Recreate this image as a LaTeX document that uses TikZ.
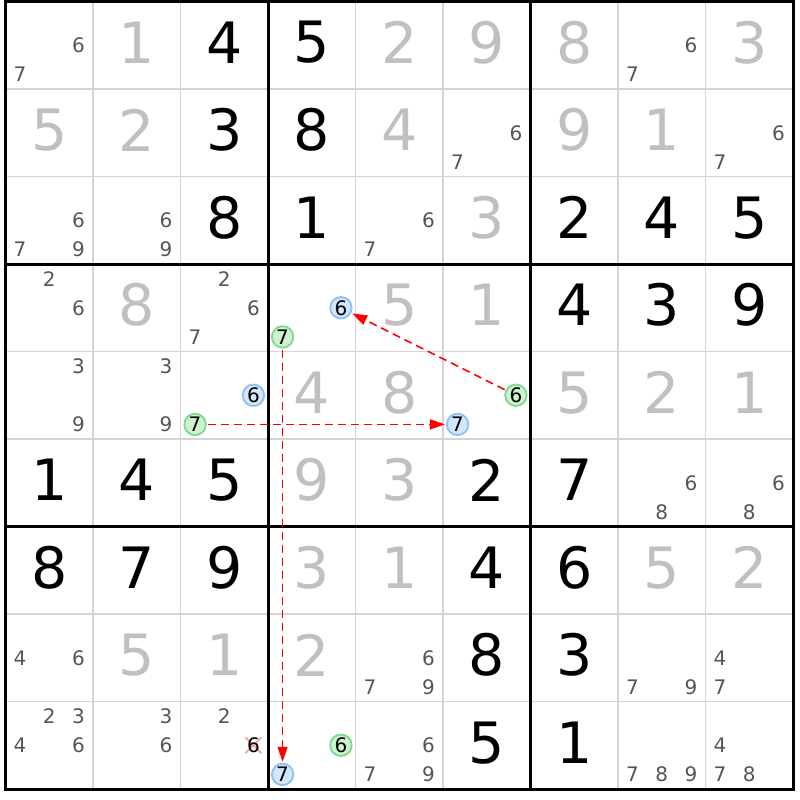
\documentclass[tikz,border=0pt]{standalone}
\usepackage{fontspec}
\setmainfont{DejaVu Sans}
\usetikzlibrary{arrows.meta}

\definecolor{solvedgray}{HTML}{C0C0C0}
\definecolor{candgray}{HTML}{555555}
\definecolor{thingray}{HTML}{D4D4D4}
\definecolor{bluefill}{HTML}{D2E6FC}
\definecolor{blueline}{HTML}{8CC0F4}
\definecolor{greenfill}{HTML}{CDF2CD}
\definecolor{greenline}{HTML}{7ED88E}
\definecolor{crossred}{HTML}{F4A0A0}

\begin{document}
\begin{tikzpicture}[x=87.5pt,y=-87.5pt,
    given/.style={font=\fontsize{57}{57}\selectfont,text=black,inner sep=0pt},
    solved/.style={given,text=solvedgray},
    cand/.style={font=\fontsize{20}{20}\selectfont,text=candgray,inner sep=0pt},
    bluecand/.style={cand,text=black,circle,draw=blueline,fill=bluefill,line width=1.8pt,minimum size=21.5pt},
    greencand/.style={bluecand,draw=greenline,fill=greenfill},
    link/.style={-{Triangle[length=15pt,width=10pt]},red,line width=1.5pt,dash pattern=on 8pt off 5pt,shorten <=1pt,shorten >=1pt}]
    \useasboundingbox (-0.0629,-0.0171) rectangle (9.0800,9.1257);

    % thin cell lines
    \foreach \i in {1,...,8} {
        \draw[thingray,line width=1.5pt] (\i,0) -- (\i,9);
        \draw[thingray,line width=1.5pt] (0,\i) -- (9,\i);
    }

    % given digits
    \foreach \r/\c/\d in {0/2/4,0/3/5,1/2/3,1/3/8,2/2/8,2/3/1,2/6/2,2/7/4,2/8/5,
        3/6/4,3/7/3,3/8/9,5/0/1,5/1/4,5/2/5,5/5/2,5/6/7,6/0/8,6/1/7,6/2/9,
        6/5/4,6/6/6,7/5/8,7/6/3,8/5/5,8/6/1}
        \node[given] (fix\r\c) at (\c+0.5,\r+0.47) {\d};

    % solved digits
    \foreach \r/\c/\d in {0/1/1,0/4/2,0/5/9,0/6/8,0/8/3,1/0/5,1/1/2,1/4/4,1/6/9,1/7/1,
        2/5/3,3/1/8,3/4/5,3/5/1,4/3/4,4/4/8,4/6/5,4/7/2,4/8/1,5/3/9,5/4/3,
        6/3/3,6/4/1,6/7/5,6/8/2,7/1/5,7/2/1,7/3/2}
        \node[solved] (sol\r\c) at (\c+0.5,\r+0.47) {\d};

    % candidates
    \foreach \r/\c/\ds in {0/0/{6,7},0/7/{6,7},1/5/{6,7},1/8/{6,7},2/0/{6,7,9},2/1/{6,9},
        2/4/{6,7},3/0/{2,6},3/2/{2,6,7},4/0/{3,9},4/1/{3,9},5/7/{6,8},5/8/{6,8},
        7/0/{4,6},7/4/{6,7,9},7/7/{7,9},7/8/{4,7},8/0/{2,3,4,6},8/1/{3,6},
        8/2/{2},8/4/{6,7,9},8/7/{7,8,9},8/8/{4,7,8}}
        \foreach \d in \ds {
            \pgfmathsetmacro\cx{\c+(mod(\d-1,3)+0.5)/3}
            \pgfmathsetmacro\cy{\r+(div(\d-1,3)+0.5)/3}
            \node[cand] (cand\r\c\d) at (\cx,\cy) {\d};
        }

    % eliminated candidate
    \draw[crossred,line width=1.8pt] (2.8333,8.5) ++(-0.09,-0.09) -- ++(0.18,0.18)
        ++(0,-0.18) -- ++(-0.18,0.18);
    \node[cand,text=black] (cand826) at (2.8333,8.5) {6};

    % chain nodes
    \node[greencand] (green337) at (3.1667,3.8333) {7};
    \node[bluecand] (blue336) at (3.8333,3.5) {6};
    \node[bluecand] (blue426) at (2.8333,4.5) {6};
    \node[greencand] (green427) at (2.1667,4.8333) {7};
    \node[greencand] (green456) at (5.8333,4.5) {6};
    \node[bluecand] (blue457) at (5.1667,4.8333) {7};
    \node[greencand] (green836) at (3.8333,8.5) {6};
    \node[bluecand] (blue837) at (3.1667,8.8333) {7};

    % box lines
    \foreach \i in {0,3,6,9} {
        \draw[line width=3pt,line cap=rect] (\i,0) -- (\i,9);
        \draw[line width=3pt,line cap=rect] (0,\i) -- (9,\i);
    }

    % links
    \path[link] (green456) edge (blue336);
    \path[link] (green427) edge (blue457);
    \path[link] (green337) edge (blue837);
\end{tikzpicture}
\end{document}
